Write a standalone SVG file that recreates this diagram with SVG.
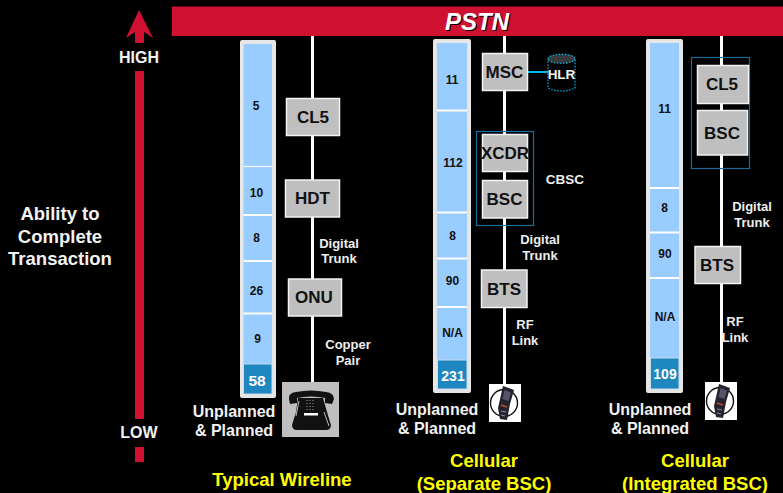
<svg xmlns="http://www.w3.org/2000/svg" width="783" height="493" viewBox="0 0 783 493">
<style>
text{font-family:"Liberation Sans",Arial,sans-serif;font-weight:bold;text-anchor:middle}
.w{fill:#f2f2f2;font-size:16px}
.s{fill:#eeeeee;font-size:13px}
.y{fill:#ffff00;font-size:18.500px}
.n{fill:#111;font-size:12px}
.d{fill:#fff;font-size:15.500px}
.l{fill:#111;font-size:17px}
.a{fill:#f2f2f2;font-size:18.500px}
.box{fill:#bfbfbf;stroke:#f2f2f2;stroke-width:1.5}
.col{fill:#e6e6e6}
.seg{fill:#99ccff}
.dark{fill:#1f87bf;stroke:#c8dcec;stroke-width:1}
.wire{stroke:#fff;stroke-width:3;fill:none}
.grp{fill:none;stroke:#1c6a9a;stroke-width:1.2}
</style>
<defs>
<g id="mobile">
<rect x="0" y="0" width="32" height="38" fill="#fff"/>
<circle cx="15" cy="19" r="13.500" fill="none" stroke="#111" stroke-width="1.400"/>
<path d="M14 2 L25 6 L21 20 L18 36 L11 35 L9 24 Z" fill="#23222e"/>
<path d="M15.500 6 L22 8.500 L19.500 17 L13.500 15 Z" fill="#55556a"/>
<path d="M12 21 L18 23" stroke="#b5532a" stroke-width="1.500"/>
<path d="M12 27 L17 28 M12 31 L16 32" stroke="#8a8a96" stroke-width="1.200"/>
</g>
</defs>
<rect width="783" height="493" fill="#000"/>

<g id="axis">
<path d="M139 10 L153 38 L144 32 L144 43 L135 43 L135 32 L126 38 Z" fill="#d01030"/>
<rect x="135" y="71" width="9" height="348" fill="#d01030"/>
<rect x="135" y="447" width="9" height="15" fill="#d01030"/>
<text class="w" x="139" y="63">HIGH</text>
<text class="w" x="139" y="438">LOW</text>
<text class="a" x="60" y="220">Ability to</text>
<text class="a" x="60" y="243">Complete</text>
<text class="a" x="60" y="265">Transaction</text>
</g>

<g id="connectors">
<path class="wire" d="M312.500 36V382"/>
<path class="wire" d="M504.500 36V384"/>
<path class="wire" d="M721.500 36V382"/>
<path d="M528 72H548" stroke="#00b8f0" stroke-width="2"/>
</g>

<g id="pstn">
<rect x="172" y="6.500" width="611" height="29.500" fill="#d01030"/>
<text x="478" y="31" style="fill:#000;font-size:24px;font-style:italic">PSTN</text>
<text x="477" y="30" style="fill:#fff;font-size:24px;font-style:italic">PSTN</text>
</g>

<g id="col-wireline">
<rect class="col" x="240" y="40" width="36" height="358" rx="2"/>
<rect class="seg" x="243.500" y="44" width="28.500" height="320"/>
<path d="M243.500 166.500H272" stroke="#fff" stroke-width="1.200"/>
<path d="M243.500 215H272M243.500 261H272M243.500 313.500H272" stroke="#fff" stroke-width="1.800"/>
<rect class="dark" x="243.500" y="364" width="28.500" height="30"/>
<text class="n" x="256" y="110">5</text>
<text class="n" x="256.500" y="197">10</text>
<text class="n" x="256.500" y="242">8</text>
<text class="n" x="256.500" y="295">26</text>
<text class="n" x="257.500" y="343">9</text>
<text class="d" x="257" y="386">58</text>
</g>

<g id="col-separate">
<rect class="col" x="433" y="39" width="38" height="354" rx="2"/>
<rect class="seg" x="437" y="43" width="30" height="317"/>
<path d="M437 110.500H467M437 212.500H467M437 258.500H467M437 307H467" stroke="#fff" stroke-width="1.800"/>
<rect class="dark" x="437.500" y="360" width="29.500" height="29"/>
<text class="n" x="452" y="84">11</text>
<text class="n" x="453" y="167">112</text>
<text class="n" x="452.500" y="240">8</text>
<text class="n" x="452.500" y="285">90</text>
<text class="n" x="452.500" y="337">N/A</text>
<text class="d" x="453" y="381" style="font-size:14px">231</text>
</g>

<g id="col-integrated">
<rect class="col" x="646" y="39" width="37" height="354" rx="2"/>
<rect class="seg" x="650" y="43" width="29" height="315"/>
<path d="M650 188H679M650 232.500H679M650 278H679" stroke="#fff" stroke-width="1.800"/>
<rect class="dark" x="650.500" y="358" width="28.500" height="31"/>
<text class="n" x="664.500" y="113">11</text>
<text class="n" x="664.500" y="212">8</text>
<text class="n" x="665" y="258">90</text>
<text class="n" x="665" y="321">N/A</text>
<text class="d" x="665" y="379" style="font-size:14px">109</text>
</g>

<g id="cl5-a"><rect class="box" x="286.500" y="98.500" width="53" height="37"/><text class="l" x="313" y="123">CL5</text></g>
<g id="hdt"><rect class="box" x="285.500" y="180" width="54" height="37"/><text class="l" x="312.500" y="204">HDT</text></g>
<g id="onu"><rect class="box" x="288.500" y="279" width="53" height="37"/><text class="l" x="314" y="303">ONU</text></g>
<g id="telephone">
<rect x="282" y="382" width="57" height="55" fill="#bfbfbf"/>
<path d="M289 399 Q288 393 296 392 Q311 389 326 392 Q334 393 334 399 L332 404 L325 403 L325 398 Q311 395 297 398 L297 403 L290 404 Z" fill="#111"/>
<path d="M298 398 L323 398 L327 412 L331 425 Q331 430 326 430 L297 430 Q292 430 292 425 L296 412 Z" fill="#111"/>
<path d="M299 401 L296 416 M324 412 L329 426" stroke="#e6e6e6" stroke-width="0.800" fill="none"/>
<rect x="304" y="413" width="14" height="2.500" fill="#fff"/>
<path d="M306.500 400.500h9M306.500 403.500h9M306.500 406.500h9M306.500 409.500h9" stroke="#9a9a9a" stroke-width="1" stroke-dasharray="1 2" fill="none"/>
</g>

<g id="msc"><rect class="box" x="482.500" y="53.500" width="45" height="37"/><text class="l" x="504.500" y="78">MSC</text></g>
<g id="hlr">
<path d="M548 58.500V88Q561.500 94 575 88V58.500" fill="none" stroke="#00b8f0" stroke-width="1.200" stroke-dasharray="1.500 1.500"/>
<ellipse cx="561.500" cy="58.800" rx="13.500" ry="4.500" fill="#3a3a3a" stroke="#00b8f0" stroke-width="1.200" stroke-dasharray="1.500 1.500"/>
<text x="561.500" y="79" style="fill:#f2f2f2;font-size:13.500px">HLR</text>
</g>
<g id="cbsc">
<rect class="grp" x="476.500" y="131.500" width="57" height="94"/>
<text class="s" x="565" y="184" style="font-size:13.500px">CBSC</text>
</g>
<g id="xcdr"><rect class="box" x="482.500" y="134.500" width="45" height="37"/><text class="l" x="505" y="159">XCDR</text></g>
<g id="bsc-a"><rect class="box" x="482.500" y="180.500" width="45" height="37.500"/><text class="l" x="504.500" y="205">BSC</text></g>
<g id="bts-a"><rect class="box" x="481.500" y="270" width="45.500" height="37.500"/><text class="l" x="504" y="295">BTS</text></g>
<g id="mobile-a"><use href="#mobile" x="489" y="384"/></g>

<g id="integrated-bsc"><rect class="grp" x="691.500" y="57.500" width="58" height="111"/></g>
<g id="cl5-b"><rect class="box" x="697.500" y="65.500" width="51" height="38"/><text class="l" x="722" y="90">CL5</text></g>
<g id="bsc-b"><rect class="box" x="697.500" y="110.500" width="50" height="44.500"/><text class="l" x="722" y="139">BSC</text></g>
<g id="bts-b"><rect class="box" x="695" y="246.500" width="45.500" height="37"/><text class="l" x="717" y="271">BTS</text></g>
<g id="mobile-b"><use href="#mobile" x="705" y="382"/></g>

<g id="labels">
<text class="s" x="339" y="248">Digital</text>
<text class="s" x="339" y="263">Trunk</text>
<text class="s" x="348" y="349">Copper</text>
<text class="s" x="348" y="365">Pair</text>
<text class="s" x="540" y="244">Digital</text>
<text class="s" x="540" y="260">Trunk</text>
<text class="s" x="525" y="329">RF</text>
<text class="s" x="525" y="345">Link</text>
<text class="s" x="752" y="211">Digital</text>
<text class="s" x="752" y="227">Trunk</text>
<text class="s" x="735" y="326">RF</text>
<text class="s" x="735" y="342">Link</text>
<text class="w" x="234" y="417">Unplanned</text>
<text class="w" x="234" y="436">&amp; Planned</text>
<text class="w" x="437" y="415">Unplanned</text>
<text class="w" x="437" y="434">&amp; Planned</text>
<text class="w" x="650" y="415">Unplanned</text>
<text class="w" x="650" y="434">&amp; Planned</text>
<text class="y" x="282" y="486">Typical Wireline</text>
<text class="y" x="484" y="467">Cellular</text>
<text class="y" x="484" y="490">(Separate BSC)</text>
<text class="y" x="695" y="467">Cellular</text>
<text class="y" x="695" y="490">(Integrated BSC)</text>
</g>
</svg>
